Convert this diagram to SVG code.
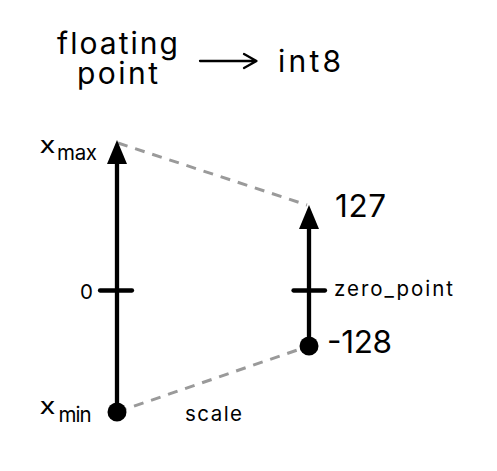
<svg xmlns="http://www.w3.org/2000/svg" width="497" height="471" viewBox="0 0 497 471">
<style>
text{font-family:Inter,"Liberation Sans",sans-serif;fill:#000}
.big{font-size:30px}
.num{font-size:31.5px}
.mid{font-size:20.5px}
.var{font-size:22.5px}
.axis{stroke:#000;stroke-width:4.3;fill:none;stroke-linecap:round}
.dash{stroke:#9a9a9a;stroke-width:3;stroke-dasharray:10 8;fill:none}
</style>
<rect width="497" height="471" fill="#fff"/>
<g id="title">
<text class="big" x="57" y="54" textLength="121" lengthAdjust="spacing">floating</text>
<text class="big" x="77" y="84" textLength="81" lengthAdjust="spacing">point</text>
<path d="M200,61 H256 M244,54 L256.5,61 L244,68" stroke="#000" stroke-width="2.3" fill="none" stroke-linecap="round" stroke-linejoin="round"/>
<text class="big" x="278" y="72" textLength="63" lengthAdjust="spacing">int8</text>
</g>
<g id="connectors">
<line class="dash" x1="118" y1="143" x2="307" y2="205"/>
<line class="dash" x1="117" y1="412" x2="309" y2="346"/>
</g>
<g id="float-axis">
<line class="axis" x1="117" y1="412" x2="117" y2="160"/>
<polygon points="117,140 107,164 127,164" fill="#000"/>
<line class="axis" x1="100" y1="290.5" x2="132" y2="290.5"/>
<circle cx="117" cy="412" r="9.5" fill="#000"/>
<text class="var" transform="translate(39.5,153) scale(1.3,1)">x</text>
<text x="57" y="160" class="mid" textLength="40" lengthAdjust="spacing">max</text>
<text x="80" y="298.5" class="mid">0</text>
<text class="var" transform="translate(39.5,413.5) scale(1.3,1)">x</text>
<text x="58.5" y="421.5" class="mid" textLength="33" lengthAdjust="spacing">min</text>
<text x="185" y="421" class="mid" textLength="57" lengthAdjust="spacing">scale</text>
</g>
<g id="int-axis">
<line class="axis" x1="309" y1="346" x2="309" y2="225"/>
<polygon points="309,205 299,229 319,229" fill="#000"/>
<line class="axis" x1="293.5" y1="290.5" x2="325" y2="290.5"/>
<circle cx="309" cy="346" r="9.5" fill="#000"/>
<text x="335" y="217" class="num" textLength="51" lengthAdjust="spacing">127</text>
<text x="334" y="296" class="mid" textLength="119" lengthAdjust="spacing">zero_point</text>
<text x="327" y="352.5" class="num" textLength="65" lengthAdjust="spacing">-128</text>
</g>
</svg>
